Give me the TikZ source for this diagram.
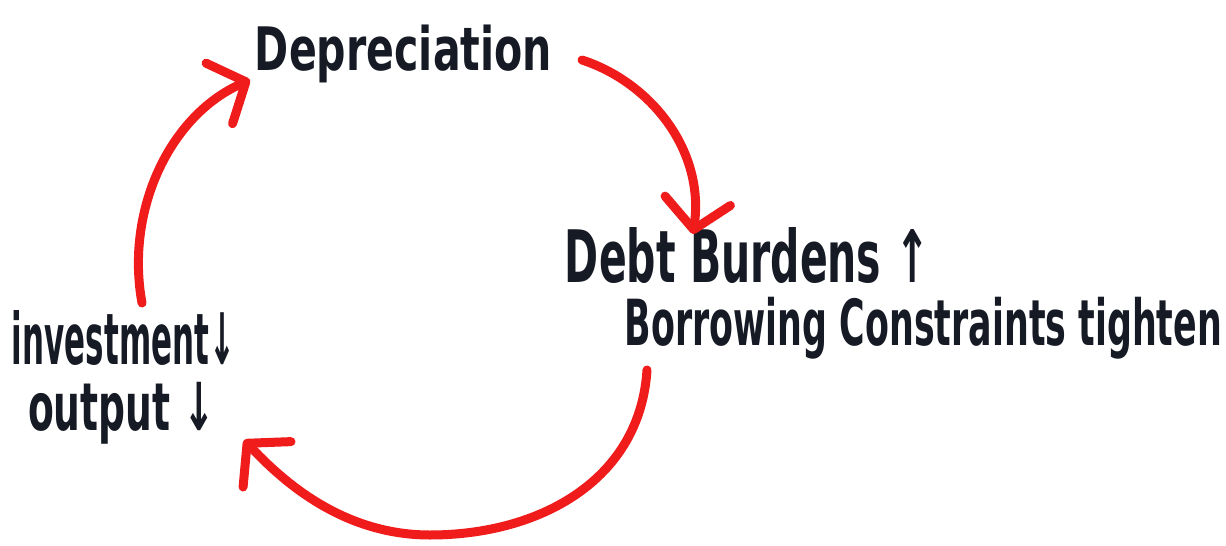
\documentclass[tikz,border=0pt]{standalone}
\usepackage{fontspec}
\setmainfont{DejaVu Sans}
\usepackage{graphicx}
\usetikzlibrary{arrows.meta}
\definecolor{markred}{RGB}{240,28,28}
\definecolor{markink}{RGB}{22,26,36}
\tikzset{
  lbl/.style={inner sep=0pt, text=markink, font=\bfseries},
  loop/.style={draw=markred, line width=9pt, line cap=round, line join=round,
    -{Straight Barb[length=29pt, width=66pt, round]}}
}
\begin{document}
\begin{tikzpicture}[x=1pt,y=-1pt]
\fill[white] (0,0) rectangle (1226,546);
\useasboundingbox (0,0) rectangle (1226,546);
\node[lbl] (dep) at (403.5,53.5) {\resizebox*{297pt}{58pt}{Depreciation}};
\node[lbl] (debt) at (747.5,256) {\resizebox*{365pt}{56pt}{Debt Burdens ↑}};
\node[lbl] (borrow) at (923.5,328) {\resizebox*{597pt}{62pt}{Borrowing Constraints tighten}};
\node[lbl] (inv) at (123.5,337.5) {\resizebox*{223pt}{55pt}{investment↓}};
\node[lbl] (out) at (121.5,413.5) {\resizebox*{187pt}{62pt}{output ↓}};
\coordinate (a1s) at (142,303);
\coordinate (a1e) at (250,80);
\coordinate (a2s) at (582,60);
\coordinate (a2e) at (693,234);
\coordinate (a3s) at (647,370);
\coordinate (a3e) at (244,440);
\draw[loop] (a1s) .. controls (125,210) and (170,115) .. (a1e);
\draw[loop] (a2s) .. controls (650,82) and (705,150) .. (a2e);
\draw[loop] (a3s) .. controls (640,480) and (540,535) .. (430,535) .. controls (340,535) and (280,478) .. (a3e);
\end{tikzpicture}
\end{document}
